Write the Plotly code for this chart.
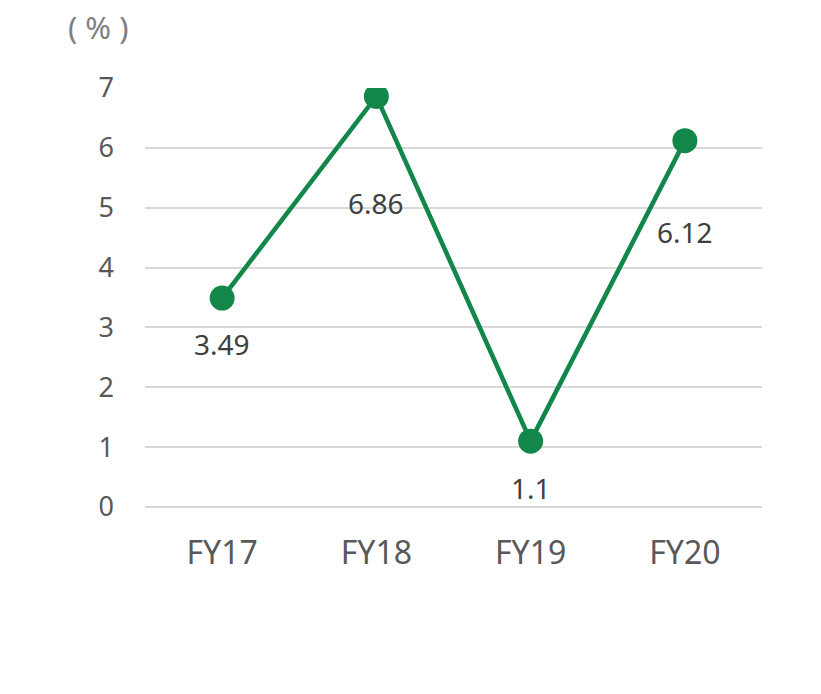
import plotly.graph_objects as go

categories = ["FY17", "FY18", "FY19", "FY20"]
values = [3.49, 6.86, 1.1, 6.12]
labels = ["3.49", "6.86", "1.1", "6.12"]
label_shift = [-46, -107, -47, -91]
y_ticks = [0, 1, 2, 3, 4, 5, 6, 7]

green = "#13874A"
font_family = "Noto Sans, Open Sans, sans-serif"

fig = go.Figure()
fig.add_trace(go.Scatter(
    x=categories, y=values, mode="lines+markers",
    line=dict(color=green, width=4.6),
    marker=dict(color=green, size=25),
    hoverinfo="skip", showlegend=False,
))

for c, v, t, s in zip(categories, values, labels, label_shift):
    fig.add_annotation(x=c, y=v, text=t, showarrow=False, yshift=s,
                       font=dict(family=font_family, size=28, color="#404040"))

fig.add_annotation(xref="paper", yref="paper", x=-0.076, y=1.146, text="( % )",
                   showarrow=False, xanchor="center", yanchor="middle",
                   font=dict(family=font_family, size=31, color="#7f7f7f"))

fig.update_layout(
    width=821, height=694,
    margin=dict(l=145, r=59, t=88, b=187, pad=0),
    plot_bgcolor="white", paper_bgcolor="white",
    font=dict(family=font_family),
)
fig.update_xaxes(
    type="category", range=[-0.5, 3.5], showgrid=False, zeroline=False, showline=False,
    ticks="", tickfont=dict(size=32, color="#595959"), ticklabelstandoff=24,
)
fig.update_yaxes(
    range=[0, 7], tickvals=y_ticks, showgrid=True, gridcolor="#d9d9d9", gridwidth=1.5,
    zeroline=True, zerolinecolor="#d9d9d9", zerolinewidth=1.5, showline=False, ticks="",
    tickfont=dict(size=27, color="#595959"), ticklabelstandoff=30,
)

fig.write_html("out.html")
